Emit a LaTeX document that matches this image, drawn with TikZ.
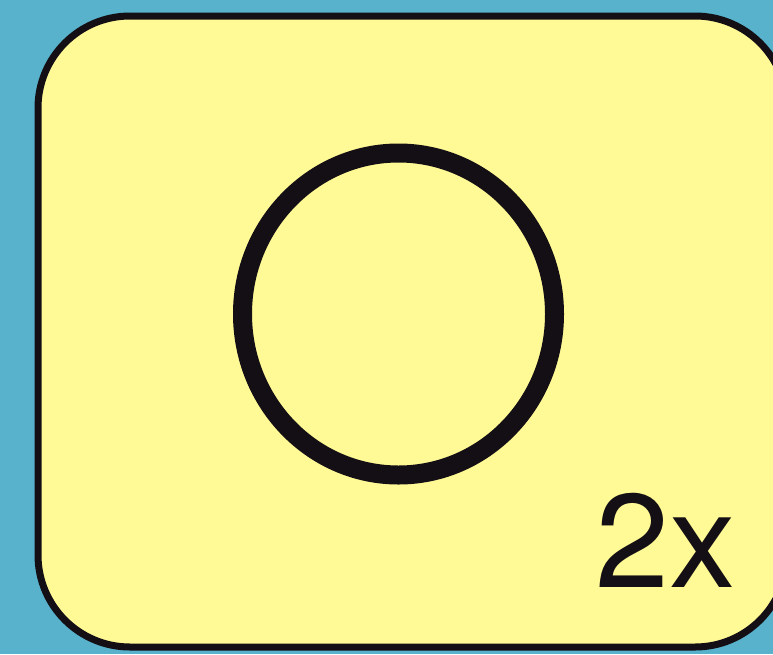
\documentclass[tikz,border=0pt]{standalone}
\usepackage{fontspec}
\setmainfont{TeX Gyre Heros}
\definecolor{bgteal}{RGB}{88,178,204}
\definecolor{cardyellow}{RGB}{255,250,150}
\definecolor{inkblack}{RGB}{20,15,20}
\tikzset{
  card/.style={draw=inkblack, fill=cardyellow, line width=7pt, rounded corners=92pt},
  ring/.style={draw=inkblack, line width=19pt},
  countlabel/.style={inner sep=0pt, anchor=base west, text=inkblack, font=\fontsize{133}{133}\selectfont}
}
\begin{document}
\begin{tikzpicture}[x=1pt, y=-1pt]
  \useasboundingbox (0,0) rectangle (773,654);
  \fill[bgteal] (0,0) rectangle (773,654);
  \begin{scope}
    \clip (0,0) rectangle (773,654);
    \draw[card] (38,16) rectangle (787,647);
  \end{scope}
  \draw[ring] (398.5,314) ellipse [x radius=156, y radius=161];
  \node[countlabel] (count) at (595,587) {2x};
\end{tikzpicture}
\end{document}
